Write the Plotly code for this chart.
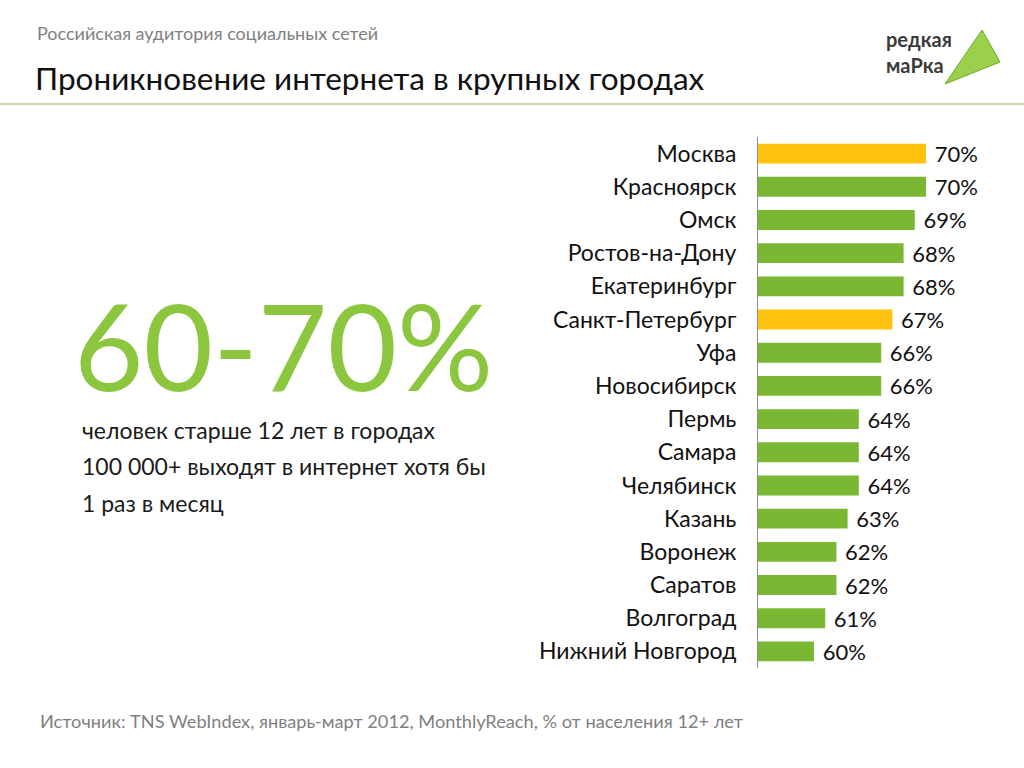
import plotly.graph_objects as go

cities = ["Москва", "Красноярск", "Омск", "Ростов-на-Дону", "Екатеринбург",
          "Санкт-Петербург", "Уфа", "Новосибирск", "Пермь", "Самара",
          "Челябинск", "Казань", "Воронеж", "Саратов", "Волгоград", "Нижний Новгород"]
values = [70, 70, 69, 68, 68, 67, 66, 66, 64, 64, 64, 63, 62, 62, 61, 60]
highlight = ["Москва", "Санкт-Петербург"]
labels = [f"\u00a0{v}%" for v in values]

GREEN = "#7AB834"
YELLOW = "#FFC20E"
colors = [YELLOW if c in highlight else GREEN for c in cities]
FONT = "Lato, 'Open Sans', sans-serif"

fig = go.Figure(go.Bar(
    y=cities, x=values, orientation="h",
    marker=dict(color=colors, line=dict(width=0)),
    width=0.6,
    text=labels, textposition="outside", cliponaxis=False, constraintext="none",
    textfont=dict(family=FONT, size=22, color="#111111"),
    hoverinfo="skip",
))

fig.update_layout(
    width=1024, height=768,
    margin=dict(l=758, r=42, t=137, b=100),
    paper_bgcolor="white", plot_bgcolor="white",
    showlegend=False,
    bargap=0.4,
    font=dict(family=FONT),
    xaxis=dict(range=[55, 75], visible=False, fixedrange=True),
    yaxis=dict(autorange="reversed", categoryorder="array", categoryarray=cities,
               showline=True, linecolor="#8C8C8C", linewidth=1, showgrid=False,
               ticks="", ticklabelstandoff=16,
               tickfont=dict(family=FONT, size=23, color="#111111")),
)

# Header texts
fig.add_annotation(xref="paper", yref="paper", x=(35-758)/224, y=(768-100-33)/531,
                   text="Российская аудитория социальных сетей", showarrow=False,
                   xanchor="left", yanchor="middle",
                   font=dict(family=FONT, size=18, color="#7F7F7F"))
fig.add_annotation(xref="paper", yref="paper", x=(33-758)/224, y=(768-100-78)/531,
                   text="Проникновение интернета в крупных городах", showarrow=False,
                   xanchor="left", yanchor="middle",
                   font=dict(family=FONT, size=31.5, color="#111111"))
# separator line
fig.add_shape(type="line", xref="paper", yref="paper",
              x0=-758/224, x1=(1024-758)/224, y0=(768-100-104)/531, y1=(768-100-104)/531,
              line=dict(color="#C9D8B0", width=2))

# Big number
fig.add_annotation(xref="paper", yref="paper", x=(72-758)/224, y=(768-100-345)/531,
                   text="60-70%", showarrow=False, xanchor="left", yanchor="middle",
                   font=dict(family=FONT, size=120, color="#8CC63F"))
body = ["человек старше 12 лет в городах", "100 000+ выходят в интернет хотя бы", "1 раз в месяц"]
for i, line in enumerate(body):
    fig.add_annotation(xref="paper", yref="paper", x=(80-758)/224,
                       y=(768-100-(430+36.5*i))/531,
                       text=line, showarrow=False, xanchor="left", yanchor="middle",
                       font=dict(family=FONT, size=23, color="#1A1A1A"))

# Source
fig.add_annotation(xref="paper", yref="paper", x=(38-758)/224, y=(768-100-721)/531,
                   text="Источник: TNS WebIndex, январь-март 2012, MonthlyReach, % от населения 12+ лет",
                   showarrow=False, xanchor="left", yanchor="middle",
                   font=dict(family=FONT, size=18.2, color="#7F7F7F"))

# Logo
fig.add_annotation(xref="paper", yref="paper", x=(884-758)/224, y=(768-100-52)/531,
                   text="<b>редкая</b><br><b>маРка</b>", showarrow=False, xanchor="left",
                   yanchor="middle", align="left",
                   font=dict(family=FONT, size=20, color="#3A3A3A"))
fig.add_shape(type="path", xref="paper", yref="paper",
              path="M {0},{1} L {2},{3} L {4},{5} Z".format(
                  (945-758)/224, (768-100-84)/531,
                  (982-758)/224, (768-100-30)/531,
                  (1000-758)/224, (768-100-62)/531),
              fillcolor="#9BD14A", line=dict(color="#6AA82A", width=1))

fig.write_html("out.html")
